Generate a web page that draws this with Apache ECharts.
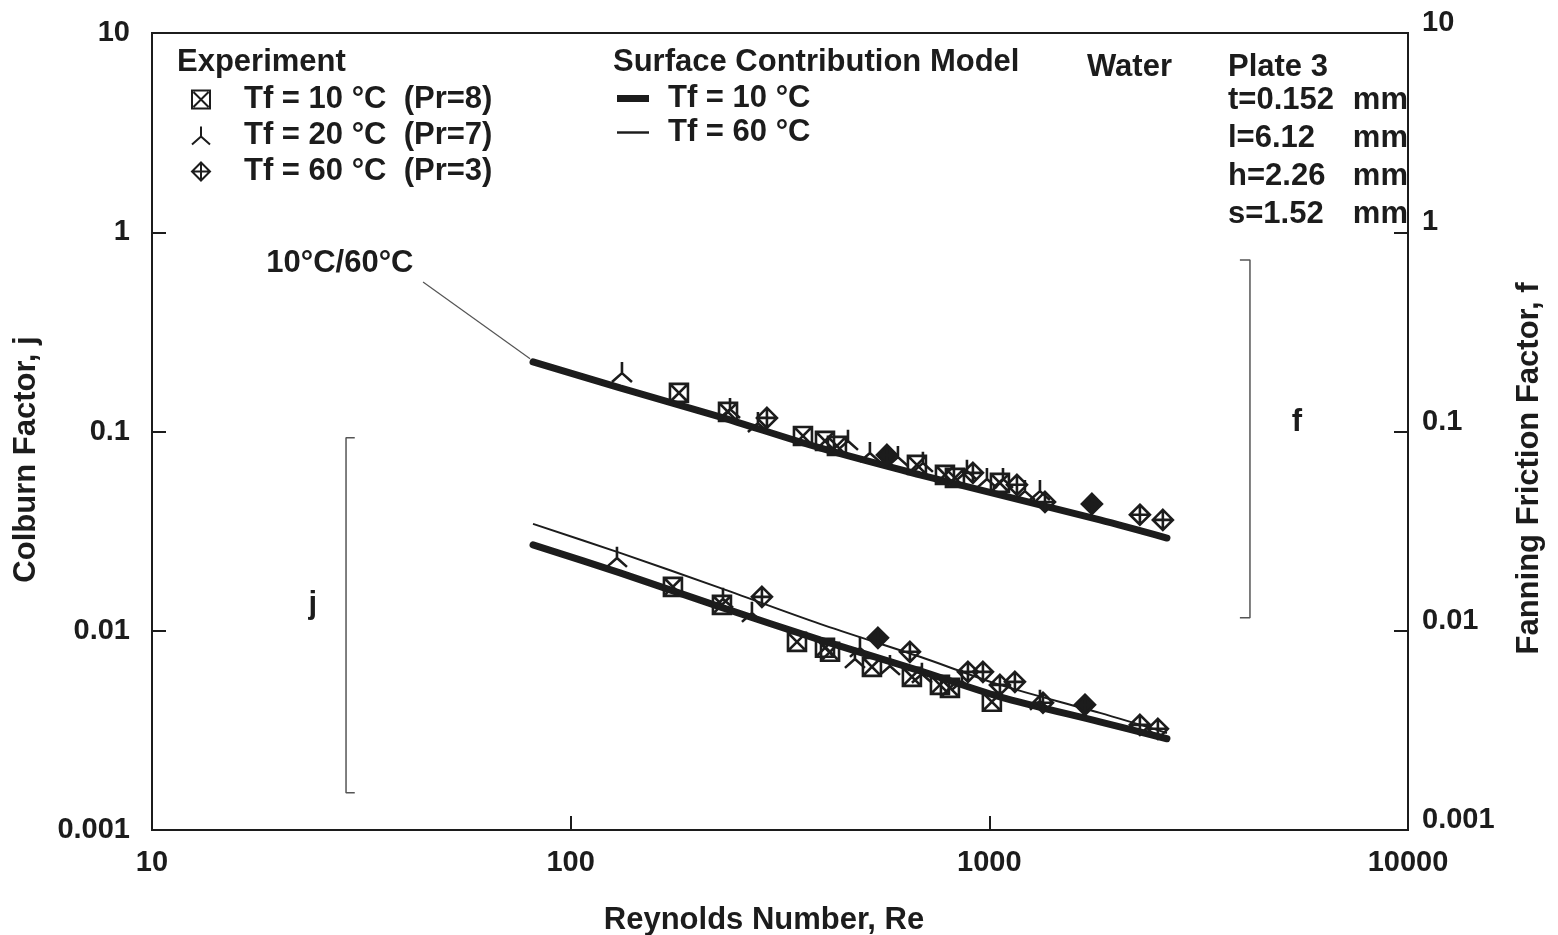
<!DOCTYPE html>
<html><head><meta charset="utf-8">
<script src="https://cdn.jsdelivr.net/npm/echarts@6/dist/echarts.min.js"></script>
<style>html,body{margin:0;padding:0;background:#fff}#c{width:1558px;height:935px}</style>
</head><body><div id="c"></div>
<script>
// ---------------- DATA ----------------
// Experiment, Tf = 10 °C (Pr=8)
const reF10 = [181.4, 237.6, 358.8, 405.0, 432.5, 671.5, 783.4, 827.6, 1060];
const fF10  = [0.1562, 0.1254, 0.0950, 0.0897, 0.0847, 0.0680, 0.0606, 0.0585, 0.0552];
const reJ10 = [175.5, 229.8, 347.2, 405.0, 416.4, 524.3, 653.2, 762.1, 805.2, 1014];
const jJ10  = [0.01661, 0.01349, 0.008795, 0.00821, 0.00784, 0.00659, 0.00587, 0.00535, 0.00517, 0.00440];
// Experiment, Tf = 20 °C (Pr=7)
const reF20 = [132.6, 240.2, 280.1, 459.6, 518.5, 604.9, 694.0, 884.2, 986.9, 1078, 1216, 1321];
const fF20  = [0.1991, 0.1313, 0.1117, 0.0908, 0.0790, 0.0754, 0.0704, 0.0642, 0.0585, 0.0585, 0.0509, 0.0509];
const reJ20 = [129.0, 231.1, 271.0, 490.9, 477.5, 578.9, 690.2, 860.1, 1321];
const jJ20  = [0.02349, 0.01463, 0.01244, 0.00830, 0.00731, 0.00674, 0.00615, 0.00567, 0.00450];
// Experiment, Tf = 60 °C (Pr=3)
const reF60 = [294.3, 569.4, 913.7, 1164, 1358, 1758, 2289, 2597];
const fF60  = [0.1170, 0.0763, 0.0620, 0.0540, 0.0443, 0.0433, 0.0382, 0.0360];
const reJ60 = [286.3, 541.9, 646.1, 889.0, 965.4, 1060, 1151, 1343, 1692, 2289, 2527];
const jJ60  = [0.01480, 0.009213, 0.00784, 0.00622, 0.00622, 0.00535, 0.00554, 0.00435, 0.00425, 0.00337, 0.00322];
// Surface Contribution Model
const reModel  = [81.3, 131.2, 227.3, 393.9, 682.9, 1060, 1837, 2656];
const fModel   = [0.2234, 0.1655, 0.1184, 0.0827, 0.0606, 0.0481, 0.0360, 0.0292];
const jModel10 = [0.02698, 0.01952, 0.01318, 0.00900, 0.00629, 0.00466, 0.00349, 0.00287];
const jModel60 = [0.0344, 0.0246, 0.01641, 0.01083, 0.00740, 0.00535, 0.00387, 0.00307];
// tick labels
const xTickLabels = ['10', '100', '1000', '10000'];
const yTickLabels = ['0.001', '0.01', '0.1', '1', '10'];
// legend names / texts
const expNames = ['Tf = 10 °C  (Pr=8)', 'Tf = 20 °C  (Pr=7)', 'Tf = 60 °C  (Pr=3)'];
const modelNames = ['Tf = 10 °C', 'Tf = 60 °C'];
const plateParams = ['t=0.152', 'l=6.12', 'h=2.26', 's=1.52'];
// points drawn dark (overlapping symbols in the original)
const darkF60 = [1, 5];
const darkJ60 = [1, 8];

// ---------------- ANNOTATIONS (data coords) ----------------
const jBracket = [[30.5, 0.0929], [29.07, 0.0929], [29.07, 0.001537], [30.5, 0.001537]];
const fBracket = [[3967, 0.726], [4193, 0.726], [4193, 0.01161], [3967, 0.01161]];
const leader = [[44.4, 0.563], [80, 0.232]];
const annoLabels = [
  {value: [28.1, 0.70], text: '10°C/60°C'},
  {value: [24.2, 0.01349], text: 'j'},
  {value: [5429, 0.1105], text: 'f'}
];

// ---------------- CHART ----------------
const FONT = "'Liberation Sans', Arial, Helvetica, sans-serif";
const INK = '#1c1c1c';
const SYM_SQ = 'path://M0,0L10,0L10,10L0,10Z M0.8,0.8L9.2,9.2 M9.2,0.8L0.8,9.2';
const SYM_TRI = 'path://M5,0L5,5.6 M5,5.6L0,10 M5,5.6L10,10';
const SYM_DIA = 'path://M5,0L10,5L5,10L0,5Z M5,0L5,10 M0,5L10,5';

const pts = (xs, ys) => xs.map((x, i) => [x, ys[i]]);
function darkify(arr, idx) {
  return arr.map((p, i) => idx.includes(i) ? {value: p, itemStyle: {color: INK}} : p);
}

const chart = echarts.init(document.getElementById('c'), null, {renderer: 'canvas'});
const axisLbl = {fontFamily: FONT, fontWeight: 'bold', fontSize: 29, color: INK};
const nameStyle = {fontFamily: FONT, fontWeight: 'bold', fontSize: 31, color: INK};
const txt = (t, x, y, align) => ({
  type: 'text', x: x, y: y,
  style: {text: t, font: "bold 31px " + FONT, fill: INK, textAlign: align || 'left', textVerticalAlign: 'middle'}
});

const graphics = [
  txt('Experiment', 177, 62),
  txt('Surface Contribution Model', 613, 62),
  txt('Water', 1087, 67),
  txt('Plate 3', 1228, 67)
];
plateParams.forEach((p, i) => {
  graphics.push(txt(p, 1228, 100 + i * 38));
  graphics.push(txt('mm', 1408, 100 + i * 38, 'right'));
});

const scatterBase = {
  type: 'scatter', symbolSize: 18, z: 5,
  itemStyle: {color: 'rgba(255,255,255,0)', borderColor: INK, borderWidth: 2.6, opacity: 1}
};
const legendText = {fontFamily: FONT, fontWeight: 'bold', fontSize: 31, color: INK};

chart.setOption({
  animation: false,
  backgroundColor: '#fff',
  grid: {left: 152, right: 150, top: 33, bottom: 105, show: true, borderColor: INK, borderWidth: 2,
    containLabel: false, outerBoundsMode: 'none'},
  xAxis: {
    type: 'log', logBase: 10, min: 10, max: 10000,
    name: 'Reynolds Number, Re', nameLocation: 'middle', nameGap: 75,
    nameTextStyle: Object.assign({padding: [0, 32, 0, 0]}, nameStyle),
    axisLine: {lineStyle: {color: INK, width: 2}},
    axisTick: {inside: true, length: 14, lineStyle: {color: INK, width: 2}},
    minorTick: {show: false},
    splitLine: {show: false},
    axisLabel: Object.assign({margin: 18, formatter: v => xTickLabels[Math.round(Math.log10(v)) - 1]}, axisLbl)
  },
  yAxis: [{
    type: 'log', logBase: 10, min: 0.001, max: 10, position: 'left',
    name: 'Colburn Factor, j', nameLocation: 'middle', nameGap: 110,
    nameTextStyle: Object.assign({padding: [0, 56, 0, 0]}, nameStyle),
    axisLine: {lineStyle: {color: INK, width: 2}},
    axisTick: {inside: true, length: 14, lineStyle: {color: INK, width: 2}},
    splitLine: {show: false},
    axisLabel: Object.assign({margin: 22, formatter: v => yTickLabels[Math.round(Math.log10(v)) + 3]}, axisLbl)
  }, {
    type: 'log', logBase: 10, min: 0.001, max: 10, position: 'right',
    name: 'Fanning Friction Factor, f', nameLocation: 'middle', nameGap: 106,
    nameTextStyle: Object.assign({padding: [0, 74, 0, 0]}, nameStyle),
    axisLine: {show: true, lineStyle: {color: INK, width: 2}},
    axisTick: {show: true, inside: true, length: 14, lineStyle: {color: INK, width: 2}},
    splitLine: {show: false},
    axisLabel: Object.assign({margin: 14, verticalAlign: 'bottom', lineHeight: 20,
      formatter: v => yTickLabels[Math.round(Math.log10(v)) + 3]}, axisLbl)
  }],
  legend: [{
    data: expNames, orient: 'vertical', left: 186, top: 79,
    itemWidth: 18, itemHeight: 18, itemGap: 5,
    textStyle: Object.assign({padding: [0, 0, 0, 29]}, legendText),
    selectedMode: false
  }, {
    data: [
      {name: modelNames[0], icon: 'path://M0,0L32,0L32,7L0,7Z'},
      {name: modelNames[1], icon: 'path://M0,0L26,0L26,2L0,2Z'}
    ],
    orient: 'vertical', left: 612, top: 78,
    itemWidth: 32, itemHeight: 14, itemGap: 3,
    textStyle: Object.assign({padding: [0, 0, 0, 14]}, legendText),
    selectedMode: false
  }],
  graphic: graphics,
  series: [
    Object.assign({}, scatterBase, {name: expNames[0], symbol: SYM_SQ,
      data: pts(reF10, fF10).concat(pts(reJ10, jJ10))}),
    Object.assign({}, scatterBase, {name: expNames[1], symbol: SYM_TRI, symbolSize: 20,
      data: pts(reF20, fF20).concat(pts(reJ20, jJ20))}),
    Object.assign({}, scatterBase, {name: expNames[2], symbol: SYM_DIA, symbolSize: 20,
      data: darkify(pts(reF60, fF60), darkF60).concat(darkify(pts(reJ60, jJ60), darkJ60))}),
    {name: modelNames[0], type: 'line', smooth: 0.3, symbol: 'none', z: 3,
      lineStyle: {color: INK, width: 7, cap: 'round'}, itemStyle: {color: INK},
      data: pts(reModel, jModel10)},
    {name: modelNames[1], type: 'line', smooth: 0.3, symbol: 'none', z: 3,
      lineStyle: {color: INK, width: 2}, itemStyle: {color: INK},
      data: pts(reModel, jModel60)},
    {name: 'f model (10°C/60°C)', type: 'line', smooth: 0.3, symbol: 'none', z: 3,
      lineStyle: {color: INK, width: 7, cap: 'round'}, itemStyle: {color: INK},
      data: pts(reModel, fModel)},
    {name: 'j bracket', type: 'line', symbol: 'none', silent: true,
      lineStyle: {color: '#555', width: 1.5}, data: jBracket},
    {name: 'f bracket', type: 'line', symbol: 'none', silent: true,
      lineStyle: {color: '#555', width: 1.5}, data: fBracket},
    {name: 'leader', type: 'line', symbol: 'none', silent: true,
      lineStyle: {color: '#555', width: 1.2}, data: leader},
    {name: 'labels', type: 'scatter', symbolSize: 0, silent: true,
      itemStyle: {opacity: 1},
      data: annoLabels.map(a => ({value: a.value, label: {formatter: a.text}})),
      label: {show: true, position: 'inside', fontFamily: FONT, fontWeight: 'bold', fontSize: 31, color: INK, opacity: 1}}
  ]
});
</script>
</body></html>
